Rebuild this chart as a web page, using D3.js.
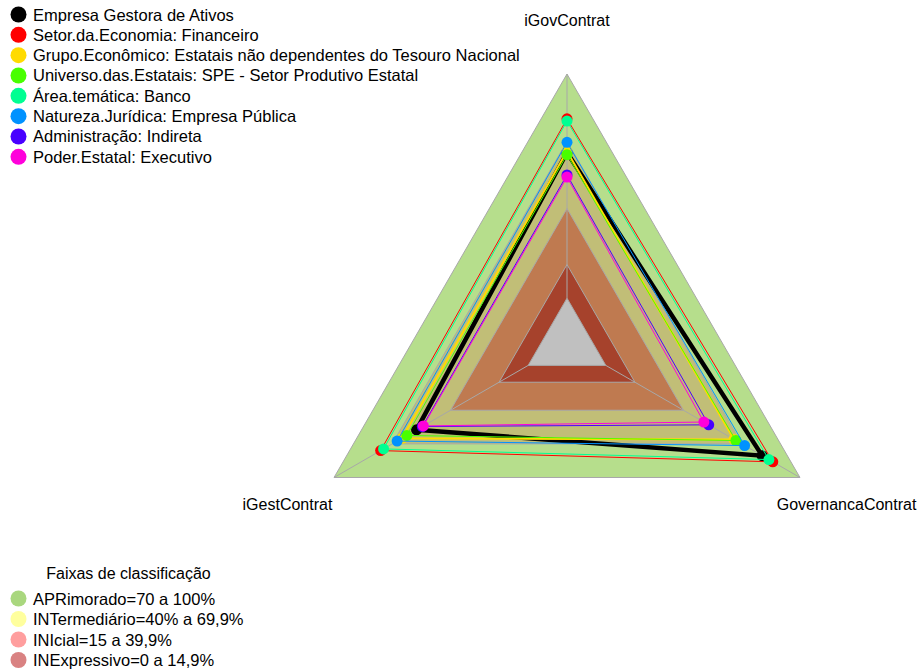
<!DOCTYPE html>
<html>
<head>
<meta charset="utf-8">
<script src="https://cdn.jsdelivr.net/npm/d3@7"></script>
<style>
  body { margin: 0; background: #fff; }
  svg { display: block; }
  text { font-family: "Liberation Sans", Arial, Helvetica, sans-serif; fill: #000; }
</style>
</head>
<body>
<svg id="chart" width="920" height="671"></svg>
<script>
// Radar axes, in drawing order (top, then counter-clockwise)
const axes = ["iGovContrat", "iGestContrat", "GovernancaContrat"];

// Series (one value per axis, in %)
const seriesNames = [
  "Empresa Gestora de Ativos",
  "Setor.da.Economia: Financeiro",
  "Grupo.Econômico: Estatais não dependentes do Tesouro Nacional",
  "Universo.das.Estatais: SPE - Setor Produtivo Estatal",
  "Área.temática: Banco",
  "Natureza.Jurídica: Empresa Pública",
  "Administração: Indireta",
  "Poder.Estatal: Executivo"
];
const seriesColors = ["#000000", "#FF0000", "#FFDB00", "#49FF00", "#00FF92", "#0092FF", "#4900FF", "#FF00DB"];
const iGovContrat       = [65.0, 80.0, 65.5, 64.0, 79.0, 69.5, 55.0, 54.0];
const iGestContrat      = [57.5, 76.0, 65.0, 62.5, 74.5, 67.5, 54.5, 54.0];
const GovernancaContrat = [80.5, 86.0, 66.0, 67.0, 84.0, 71.5, 53.0, 50.5];

// Classification bands (outer limit of each filled triangle)
const bandLimits = [100, 70, 40, 15, 0];
const bandFills  = ["#b6de8c", "#c1be77", "#bf7a50", "#a6422c", "#c0c0c0"];

const legendTitle = "Faixas de classificação";
const bandLabels = [
  "APRimorado=70 a 100%",
  "INTermediário=40% a 69,9%",
  "INIcial=15 a 39,9%",
  "INExpressivo=0 a 14,9%"
];
const bandLegendColors = ["#a9d77e", "#ffff9e", "#ff9e9e", "#d98282"];

const svg = d3.select("#chart");
const cx = 567, cy = 343, R = 269;

// radius scale with an inner gap (value 0 sits at R/6)
const r = d3.scaleLinear().domain([0, 100]).range([R / 6, R]);
const angle = i => -i * 2 * Math.PI / axes.length;

const radial = d3.lineRadial()
  .angle((d, i) => angle(i))
  .radius(d => r(d))
  .curve(d3.curveLinearClosed);

const g = svg.append("g").attr("transform", `translate(${cx},${cy})`);

// bands
g.selectAll("path.band")
  .data(bandLimits)
  .join("path")
  .attr("class", "band")
  .attr("d", v => radial(axes.map(() => v)))
  .attr("fill", (v, i) => bandFills[i])
  .attr("stroke", "#a8a8a8")
  .attr("stroke-width", 1);

// axis spokes
const pt = (v, i) => [Math.sin(angle(i)) * r(v), -Math.cos(angle(i)) * r(v)];
g.selectAll("line.spoke")
  .data(axes)
  .join("line")
  .attr("class", "spoke")
  .attr("x1", (d, i) => pt(0, i)[0]).attr("y1", (d, i) => pt(0, i)[1])
  .attr("x2", (d, i) => pt(100, i)[0]).attr("y2", (d, i) => pt(100, i)[1])
  .attr("stroke", "#a8a8a8")
  .attr("stroke-width", 1);

// axis labels
g.selectAll("text.axis")
  .data(axes)
  .join("text")
  .attr("class", "axis")
  .attr("x", (d, i) => Math.sin(angle(i)) * R * 1.2)
  .attr("y", (d, i) => -Math.cos(angle(i)) * R * 1.2)
  .attr("text-anchor", "middle")
  .attr("dominant-baseline", "central")
  .style("font-size", "16px")
  .text(d => d);

// series
const series = seriesNames.map((name, k) => ({
  name,
  color: seriesColors[k],
  values: [iGovContrat[k], iGestContrat[k], GovernancaContrat[k]]
}));

series.forEach((s, k) => {
  const sg = g.append("g");
  sg.append("path")
    .attr("d", radial(s.values))
    .attr("fill", "none")
    .attr("stroke", s.color)
    .attr("stroke-width", k === 0 ? 4.5 : (k === 2 ? 2 : 1))
    .attr("stroke-linejoin", "miter");
  sg.selectAll("circle")
    .data(s.values)
    .join("circle")
    .attr("cx", (v, i) => pt(v, i)[0])
    .attr("cy", (v, i) => pt(v, i)[1])
    .attr("r", 5.5)
    .attr("fill", s.color);
});

// series legend
const lg = svg.append("g");
const legendRows = lg.selectAll("g")
  .data(series)
  .join("g")
  .attr("transform", (d, i) => `translate(18.5,${14.5 + i * 20.33})`);
legendRows.append("circle").attr("r", 8).attr("fill", d => d.color);
legendRows.append("text")
  .attr("x", 14.5).attr("y", 6)
  .style("font-size", "16.5px")
  .text(d => d.name);

// band legend
const bl = svg.append("g");
bl.append("text")
  .attr("x", 128.5).attr("y", 579)
  .attr("text-anchor", "middle")
  .style("font-size", "16px")
  .text(legendTitle);
const bandRows = bl.selectAll("g")
  .data(bandLabels)
  .join("g")
  .attr("transform", (d, i) => `translate(18.5,${598.5 + i * 20.5})`);
bandRows.append("circle").attr("r", 8).attr("fill", (d, i) => bandLegendColors[i]);
bandRows.append("text")
  .attr("x", 14.5).attr("y", 6)
  .style("font-size", "16.5px")
  .text(d => d);
</script>
</body>
</html>
